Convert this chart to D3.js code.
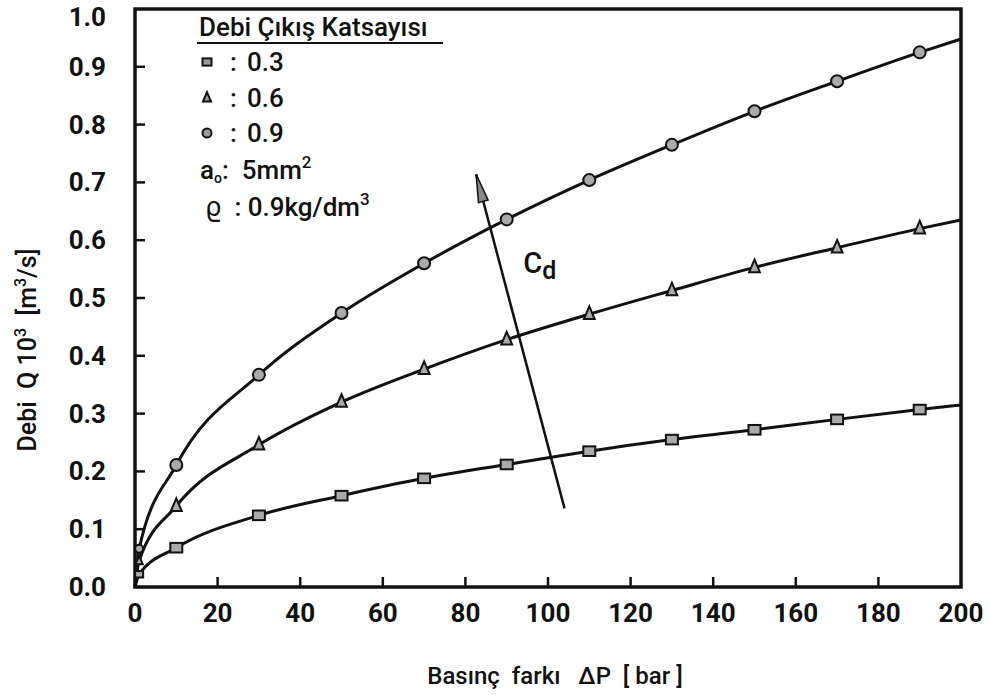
<!DOCTYPE html>
<html>
<head>
<meta charset="utf-8">
<script src="https://cdn.jsdelivr.net/npm/d3@7"></script>
<style>
  body { margin: 0; background: #fff; }
  svg text { font-family: Roboto, "DejaVu Sans", sans-serif; fill: #111; }
</style>
</head>
<body>
<svg width="990" height="697"></svg>
<script>
// pressure difference (bar), curve points incl. origin and right edge
var dp = [0, 1, 10, 30, 50, 70, 90, 110, 130, 150, 170, 190, 200];
// flow Q*10^3 (m3/s) for each discharge coefficient
var q03 = [0, 0.022, 0.068, 0.124, 0.158, 0.188, 0.212, 0.235, 0.255, 0.272, 0.290, 0.307, 0.315];
var q06 = [0, 0.045, 0.140, 0.246, 0.320, 0.377, 0.428, 0.472, 0.513, 0.553, 0.587, 0.620, 0.635];
var q09 = [0, 0.066, 0.211, 0.367, 0.474, 0.560, 0.636, 0.704, 0.765, 0.823, 0.875, 0.925, 0.948];
// points that carry a marker (ΔP = 200 is only the line end)
var markerDp = [1, 10, 30, 50, 70, 90, 110, 130, 150, 170, 190];

var xTicks = [0, 20, 40, 60, 80, 100, 120, 140, 160, 180, 200];
var yTicks = [0, 0.1, 0.2, 0.3, 0.4, 0.5, 0.6, 0.7, 0.8, 0.9, 1.0];

// Cd arrow (tail -> head) and its label, in data units
var arrowPts = [[104, 0.136], [82.6, 0.714]];
var cdLabel = [94, 0.56];

var series = [
  { cd: '0.3', vals: q03, shape: 'square' },
  { cd: '0.6', vals: q06, shape: 'triangle' },
  { cd: '0.9', vals: q09, shape: 'circle' }
];

var svg = d3.select('svg');

var x = d3.scaleLinear().domain([0, 200]).range([135, 961]);
var y = d3.scaleLinear().domain([0, 1]).range([587, 9]);

// frame
svg.append('rect')
  .attr('x', x(0)).attr('y', y(1))
  .attr('width', x(200) - x(0)).attr('height', y(0) - y(1))
  .attr('fill', 'none').attr('stroke', '#111').attr('stroke-width', 3.5);

// inner ticks
svg.selectAll('.yt').data(yTicks.slice(1, -1)).enter().append('line')
  .attr('x1', x(0)).attr('x2', x(0) + 10)
  .attr('y1', function(d) { return y(d); }).attr('y2', function(d) { return y(d); })
  .attr('stroke', '#111').attr('stroke-width', 2.5);

svg.selectAll('.xt').data(xTicks.slice(1, -1)).enter().append('line')
  .attr('x1', function(d) { return x(d); }).attr('x2', function(d) { return x(d); })
  .attr('y1', y(0)).attr('y2', y(0) - 10)
  .attr('stroke', '#111').attr('stroke-width', 2.5);

// tick labels
svg.selectAll('.yl').data(yTicks).enter().append('text')
  .attr('x', 106)
  .attr('y', function(d) { return d === 1 ? y(d) + 17 : y(d) + 9; })
  .attr('text-anchor', 'end')
  .style('font-size', '26px').style('font-weight', 'bold')
  .text(function(d) { return d.toFixed(1); });

svg.selectAll('.xl').data(xTicks).enter().append('text')
  .attr('x', function(d) { return x(d); })
  .attr('y', 622)
  .attr('text-anchor', 'middle')
  .style('font-size', '26px').style('font-weight', 'bold')
  .text(function(d) { return d; });

// axis titles
svg.append('text')
  .attr('x', 555).attr('y', 684)
  .attr('text-anchor', 'middle')
  .attr('xml:space', 'preserve')
  .style('font-size', '24px').style('font-weight', 500)
  .text('Basınç  farkı   ΔP  [ bar ]');

var yt = svg.append('text')
  .attr('transform', 'translate(36,350) rotate(-90)')
  .attr('text-anchor', 'middle')
  .attr('xml:space', 'preserve')
  .style('font-size', '25px').style('font-weight', 500);
yt.append('tspan').text('Debi  Q 10');
yt.append('tspan').attr('dy', -10).style('font-size', '16px').text('3');
yt.append('tspan').attr('dy', 10).text('  [m');
yt.append('tspan').attr('dy', -10).style('font-size', '16px').text('3');
yt.append('tspan').attr('dy', 10).text('/s]');

// curves
var line = d3.line()
  .x(function(d) { return x(d[0]); })
  .y(function(d) { return y(d[1]); })
  .curve(d3.curveMonotoneX);

series.forEach(function(s) {
  var pts = dp.map(function(d, i) { return [d, s.vals[i]]; });
  svg.append('path')
    .attr('d', line(pts))
    .attr('fill', 'none').attr('stroke', '#111').attr('stroke-width', 3);
});

function drawMarker(g, shape, cx, cy, r) {
  if (shape === 'square') {
    g.append('rect').attr('x', cx - r).attr('y', cy - r * 0.8)
      .attr('width', 2 * r).attr('height', 1.6 * r);
  } else if (shape === 'triangle') {
    g.append('path').attr('d', 'M' + cx + ',' + (cy - r * 1.3) + 'L' + (cx + r * 0.9) + ',' + (cy + r * 0.8) +
      'L' + (cx - r * 0.9) + ',' + (cy + r * 0.8) + 'Z');
  } else {
    g.append('circle').attr('cx', cx).attr('cy', cy).attr('r', r);
  }
}

var marks = svg.append('g').attr('fill', '#aaa').attr('stroke', '#111').attr('stroke-width', 2);
series.forEach(function(s) {
  markerDp.forEach(function(d) {
    var v = s.vals[dp.indexOf(d)];
    drawMarker(marks, s.shape, x(d), y(v), d === 1 ? 4 : 6);
  });
});

// Cd arrow
var a0 = [x(arrowPts[0][0]), y(arrowPts[0][1])];
var a1 = [x(arrowPts[1][0]), y(arrowPts[1][1])];
svg.append('line')
  .attr('x1', a0[0]).attr('y1', a0[1]).attr('x2', a1[0]).attr('y2', a1[1])
  .attr('stroke', '#111').attr('stroke-width', 2.5);
var ang = Math.atan2(a1[1] - a0[1], a1[0] - a0[0]);
var hl = 28, hw = 5;
var bx = a1[0] - hl * Math.cos(ang), by = a1[1] - hl * Math.sin(ang);
svg.append('path')
  .attr('d', 'M' + a1[0] + ',' + a1[1] +
    'L' + (bx + hw * Math.sin(ang)) + ',' + (by - hw * Math.cos(ang)) +
    'L' + (bx - hw * Math.sin(ang)) + ',' + (by + hw * Math.cos(ang)) + 'Z')
  .attr('fill', '#888').attr('stroke', '#111').attr('stroke-width', 1.5);

var cd = svg.append('text')
  .attr('x', x(cdLabel[0])).attr('y', y(cdLabel[1]) + 10)
  .style('font-size', '29px').style('font-weight', 500);
cd.append('tspan').text('C');
cd.append('tspan').attr('dy', 6).style('font-size', '25px').text('d');

// legend
var lg = svg.append('g');
lg.append('text').attr('x', 199).attr('y', 36)
  .style('font-size', '26px').style('font-weight', 500)
  .text('Debi Çıkış Katsayısı');
lg.append('line').attr('x1', 197).attr('x2', 443).attr('y1', 43).attr('y2', 43)
  .attr('stroke', '#111').attr('stroke-width', 2);

var rowY = [62, 98, 133];
var lm = lg.append('g').attr('fill', '#999').attr('stroke', '#111').attr('stroke-width', 2);
series.forEach(function(s, i) {
  drawMarker(lm, s.shape, 207, rowY[i], 4.5);
  lg.append('text').attr('x', 230).attr('y', rowY[i] + 9)
    .style('font-size', '26px').style('font-weight', 500).text(':');
  lg.append('text').attr('x', 247).attr('y', rowY[i] + 9)
    .style('font-size', '26px').style('font-weight', 500).text(s.cd);
});

var r4 = lg.append('text').attr('x', 200).attr('y', 179)
  .attr('xml:space', 'preserve')
  .style('font-size', '26px').style('font-weight', 500);
r4.append('tspan').text('a');
r4.append('tspan').attr('dy', 4).style('font-size', '14px').text('o');
r4.append('tspan').attr('dy', -4).text(':  5mm');
r4.append('tspan').attr('dy', -11).style('font-size', '17px').text('2');

var r5 = lg.append('text').attr('x', 205).attr('y', 216)
  .attr('xml:space', 'preserve')
  .style('font-size', '26px').style('font-weight', 500);
r5.append('tspan').text('ϱ  : 0.9kg/dm');
r5.append('tspan').attr('dy', -11).style('font-size', '17px').text('3');
</script>
</body>
</html>
